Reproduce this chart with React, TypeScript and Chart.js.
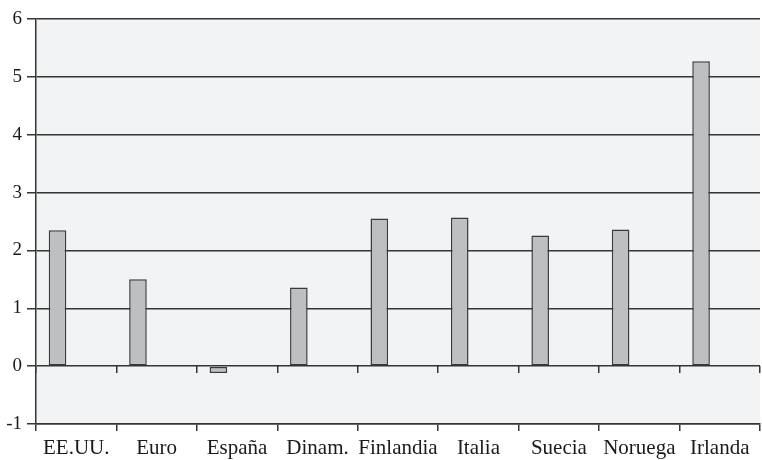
import React, { useEffect, useRef } from "react";
import { Chart, registerables } from "chart.js";

Chart.register(...registerables);

const categories = ["EE.UU.", "Euro", "España", "Dinam.", "Finlandia", "Italia", "Suecia", "Noruega", "Irlanda"];
const values = [2.35, 1.5, -0.12, 1.36, 2.55, 2.57, 2.26, 2.36, 5.27];
const emptySeries: (number | null)[] = [null, null, null, null, null, null, null, null, null];
const yMin = -1;
const yMax = 6;
const yStep = 1;

const DARK = "#353535";
const FONT = "'Liberation Serif', 'Times New Roman', serif";

const plotBackground = {
  id: "plotBackground",
  beforeDraw(chart: any) {
    const { ctx, chartArea } = chart;
    if (!chartArea) return;
    ctx.save();
    ctx.fillStyle = "#f2f3f5";
    ctx.fillRect(chartArea.left, chartArea.top, chartArea.right - chartArea.left, chartArea.bottom - chartArea.top);
    ctx.restore();
  },
};

export default function App() {
  const canvasRef = useRef<HTMLCanvasElement | null>(null);

  useEffect(() => {
    if (!canvasRef.current) return;
    const chart = new Chart(canvasRef.current, {
      type: "bar",
      data: {
        labels: categories,
        datasets: [
          {
            data: values,
            backgroundColor: "#bebfc3",
            borderColor: "#3a3a3a",
            borderWidth: 1.5,
            borderSkipped: false,
            categoryPercentage: 0.93,
            barPercentage: 0.47,
            xAxisID: "x",
          },
          {
            data: emptySeries,
            backgroundColor: "transparent",
            categoryPercentage: 0.93,
            barPercentage: 0.47,
            xAxisID: "x",
          },
        ],
      },
      options: {
        animation: false,
        responsive: false,
        maintainAspectRatio: false,
        devicePixelRatio: 1,
        layout: { padding: { top: 19, right: 2, left: 0, bottom: 0 } },
        plugins: {
          legend: { display: false },
          tooltip: { enabled: false },
          title: { display: false },
        },
        scales: {
          x: {
            type: "category",
            position: "bottom",
            offset: true,
            grid: {
              offset: true,
              drawOnChartArea: false,
              drawTicks: true,
              tickLength: 7,
              color: DARK,
              lineWidth: 1.5,
            },
            border: { display: true, color: DARK, width: 1.5 },
            ticks: {
              color: "#1a1a1a",
              font: { family: FONT, size: 21 },
              padding: 5,
              maxRotation: 0,
              autoSkip: false,
            },
            afterFit(scale: any) {
              scale.height = 36;
            },
          },
          xZero: {
            type: "category",
            position: { y: 0 } as any,
            offset: true,
            labels: categories,
            grid: {
              offset: true,
              drawOnChartArea: false,
              drawTicks: true,
              tickLength: 7,
              color: DARK,
              lineWidth: 1.5,
            },
            border: { display: false },
            ticks: { display: false },
          },
          y: {
            min: yMin,
            max: yMax,
            position: "left",
            ticks: {
              stepSize: yStep,
              color: "#1a1a1a",
              font: { family: FONT, size: 19 },
              padding: 5,
            },
            grid: {
              color: DARK,
              lineWidth: 1.5,
              drawTicks: true,
              tickLength: 9,
            },
            border: { display: true, color: DARK, width: 1.5 },
            afterFit(scale: any) {
              scale.width = 36;
            },
          },
        },
      } as any,
      plugins: [plotBackground],
    });
    return () => chart.destroy();
  }, []);

  return (
    <div style={{ position: "fixed", left: 0, top: 0, width: 762, height: 460, background: "#fff" }}>
      <canvas ref={canvasRef} width={762} height={460} style={{ width: 762, height: 460, display: "block" }} />
    </div>
  );
}
